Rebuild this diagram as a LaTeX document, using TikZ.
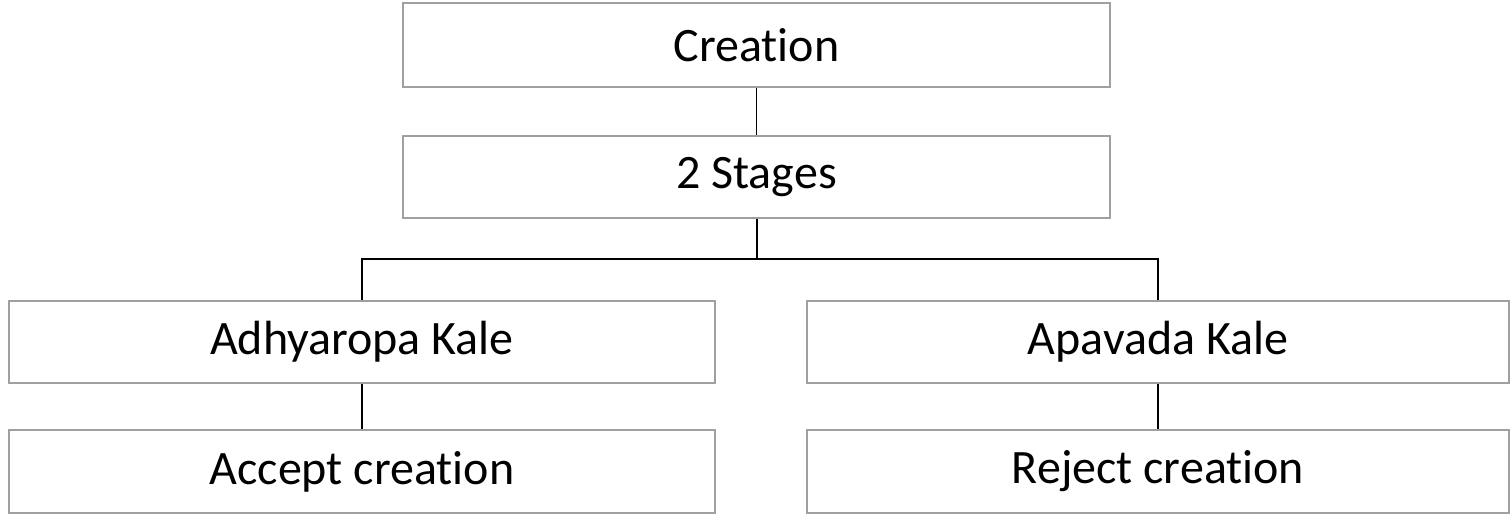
\documentclass[tikz,border=0pt]{standalone}
\usepackage{fontspec}
\setmainfont{Carlito}[Ligatures=NoCommon]
\definecolor{boxline}{RGB}{160,160,160}
\begin{document}
\begin{tikzpicture}[x=1pt,y=-1pt,
  box/.style={draw=boxline,line width=1.5pt,fill=white,inner sep=0pt,
    font=\fontsize{48}{56}\selectfont},
  link/.style={draw=black,line width=1.3pt}]
\useasboundingbox (0,0) rectangle (1511,514);
% boxes placed by centre and size
\node[box,minimum width=707pt,minimum height=84pt] (c) at (756.5,45) {Creation};
\node[box,minimum width=707pt,minimum height=82pt] (s) at (756.5,177) {2 Stages};
\node[box,minimum width=706pt,minimum height=82pt] (a) at (362,342) {Adhyaropa Kale};
\node[box,minimum width=706pt,minimum height=83pt] (ac) at (362,471.5) {Accept creation};
\node[box,minimum width=702pt,minimum height=82pt] (p) at (1158,342) {Apavada Kale};
\node[box,minimum width=702pt,minimum height=83pt] (r) at (1158,471.5) {Reject creation};
\coordinate (j) at (756.5,259);
% connectors
\draw[link] (c) -- (s);
\draw[link,line width=2pt] (s) -- (j);
\draw[link] (a.north) -- (a.north |- j) -- (p.north |- j) -- (p.north);
\draw[link] (a) -- (ac);
\draw[link] (p) -- (r);
\end{tikzpicture}
\end{document}
